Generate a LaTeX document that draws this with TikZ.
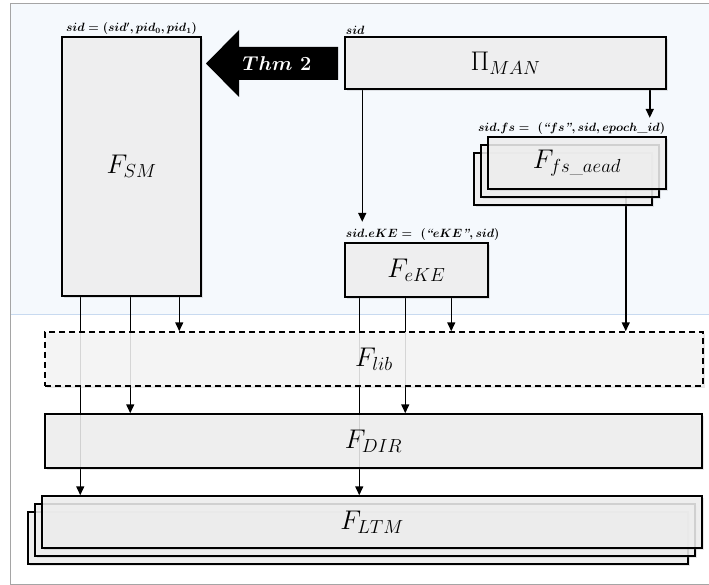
\documentclass[tikz,border=0pt]{standalone}
\usepackage{fix-cm}
\usepackage{amsmath,amssymb}
\usepackage{tikz}
\usetikzlibrary{arrows.meta,positioning,calc,shadows,backgrounds}

\definecolor{skyfill}{RGB}{245,249,253}
\definecolor{skyline}{RGB}{200,218,240}
\definecolor{framegray}{RGB}{165,165,165}
\definecolor{boxfill}{RGB}{241,241,241}

\begin{document}
\begin{tikzpicture}[
    x=1pt, y=-1pt,
    >={Triangle[length=9pt,width=8pt]},
    block/.style={
        rectangle, draw, line width=1.5pt,
        fill=boxfill, fill opacity=0.85, text opacity=1,
        drop shadow={opacity=0.2, shadow xshift=2pt, shadow yshift=-2pt},
        inner sep=0pt, font=\fontsize{27}{31}\selectfont
    },
    tag/.style={inner sep=1.5pt, font=\bfseries\boldmath\fontsize{12}{14}\selectfont},
    conn/.style={->, line width=1.5pt}
]
    \useasboundingbox (0,0) rectangle (709,585);

    % Backdrop
    \begin{scope}[on background layer]
        \fill[skyfill] (10,4) rectangle (709,314);
        \draw[skyline, line width=0.7pt] (10,314) -- (709,314);
        \draw[framegray, line width=1pt] (709,4) -- (10,4) -- (10,584) -- (709,584);
    \end{scope}

    % Nodes
    \node[block, minimum width=139pt, minimum height=259pt] (sm) at (131.5,166.5) {$F_{SM}$};
    \node[tag, anchor=south] (smtag) at (sm.north) {$sid = (sid', pid_0, pid_1)$};

    \node[block, minimum width=321pt, minimum height=52pt] (man) at (505.5,63) {$\Pi_{MAN}$};
    \node[tag, anchor=south west] (mantag) at (man.north west) {$sid$};

    \node[block, minimum width=178pt, minimum height=52pt] (fs3) at (563,179) {};
    \node[block, minimum width=178pt, minimum height=52pt] (fs2) at (570,171) {};
    \node[block, minimum width=178pt, minimum height=52pt] (fs) at (577,163) {$F_{fs\_aead}$};
    \node[tag, anchor=south east] (fstag) at (fs.north east) {$sid.fs = \ (\textit{``}fs\textit{''}, sid, epoch\_id)$};

    \node[block, minimum width=143pt, minimum height=54pt] (eke) at (416.5,270) {$F_{eKE}$};
    \node[tag, anchor=south west] (eketag) at (eke.north west) {$sid.eKE = \ (\textit{``}eKE\textit{''}, sid)$};

    \node[block, dash pattern=on 6pt off 4pt, fill=boxfill!60, minimum width=658pt, minimum height=54pt] (lib) at (374,359) {$F_{lib}$};
    \node[block, minimum width=657pt, minimum height=54pt] (dir) at (373.5,441) {$F_{DIR}$};

    \node[block, minimum width=660pt, minimum height=52pt] (ltm3) at (358,538) {};
    \node[block, minimum width=660pt, minimum height=52pt] (ltm2) at (365,530) {};
    \node[block, minimum width=660pt, minimum height=52pt] (ltm) at (372,522) {$F_{LTM}$};

    % Thm 2 arrow
    \fill (338,47) -- (239,47) -- (239,30) -- (206,63.5) -- (239,97) -- (239,80) -- (338,80) -- cycle;
    \node[text=white, font=\bfseries\boldmath\fontsize{20}{23}\selectfont] (thm) at (277,63.5) {$Thm~2$};

    % Connections
    \coordinate (m1) at ([xshift=18pt]man.south west);
    \coordinate (m2) at ([xshift=-17pt]man.south east);
    \coordinate (f1) at ([xshift=-41pt]fs.south east);
    \coordinate (s1) at ([xshift=19pt]sm.south west);
    \coordinate (s2) at ([xshift=69pt]sm.south west);
    \coordinate (s3) at ([xshift=118pt]sm.south west);
    \coordinate (e1) at ([xshift=15pt]eke.south west);
    \coordinate (e2) at ([xshift=61pt]eke.south west);
    \coordinate (e3) at ([xshift=107pt]eke.south west);

    \begin{scope}[on background layer]
        \draw[conn, shorten >=5pt] (m1) -- (m1 |- eketag.north);
        \draw[conn, shorten >=3pt] (m2) -- (m2 |- fstag.north);
        \draw[conn] (f1) -- (f1 |- lib.north);
        \draw[conn] (s1) -- (s1 |- ltm.north);
        \draw[conn] (s2) -- (s2 |- dir.north);
        \draw[conn] (s3) -- (s3 |- lib.north);
        \draw[conn] (e1) -- (e1 |- ltm.north);
        \draw[conn] (e2) -- (e2 |- dir.north);
        \draw[conn] (e3) -- (e3 |- lib.north);
    \end{scope}
\end{tikzpicture}
\end{document}
